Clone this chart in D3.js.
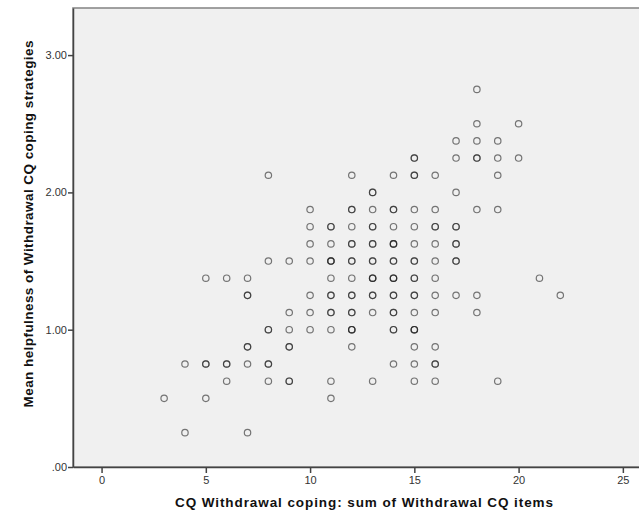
<!DOCTYPE html>
<html>
<head>
<meta charset="utf-8">
<script src="https://cdn.jsdelivr.net/npm/d3@7"></script>
<style>
    body { margin: 0; background: #ffffff; overflow: hidden; }
    svg { display: block; font-family: "Liberation Sans", Arial, sans-serif; }
</style>
</head>
<body>
<svg id="chart" width="639" height="515"></svg>
<script>
// sum of Withdrawal CQ items (x), mean helpfulness (y), overlap count (n)
const sumItems = [3, 4, 4, 5, 5, 5, 6, 6, 6, 7, 7, 7, 7, 7,
    8, 8, 8, 8, 8, 9, 9, 9, 9, 9,
    10, 10, 10, 10, 10, 10, 10,
    11, 11, 11, 11, 11, 11, 11, 11, 11,
    12, 12, 12, 12, 12, 12, 12, 12, 12, 12, 12,
    13, 13, 13, 13, 13, 13, 13, 13, 13, 13,
    14, 14, 14, 14, 14, 14, 14, 14, 14, 14,
    15, 15, 15, 15, 15, 15, 15, 15, 15, 15, 15, 15, 15, 15,
    16, 16, 16, 16, 16, 16, 16, 16, 16, 16, 16,
    17, 17, 17, 17, 17, 17, 17,
    18, 18, 18, 18, 18, 18, 18,
    19, 19, 19, 19, 19,
    20, 20, 21, 22];
const helpfulness = [0.5, 0.25, 0.75, 0.5, 0.75, 1.375, 0.625, 0.75, 1.375, 0.25, 0.75, 0.875, 1.25, 1.375,
    0.625, 0.75, 1.0, 1.5, 2.125, 0.625, 0.875, 1.0, 1.125, 1.5,
    1.0, 1.125, 1.25, 1.5, 1.625, 1.75, 1.875,
    0.5, 0.625, 1.0, 1.125, 1.25, 1.375, 1.5, 1.625, 1.75,
    0.875, 1.0, 1.125, 1.25, 1.375, 1.5, 1.625, 1.75, 1.875, 2.125, 1.0,
    0.625, 1.125, 1.25, 1.375, 1.5, 1.625, 1.75, 1.875, 2.0, 1.375,
    0.75, 1.0, 1.125, 1.25, 1.375, 1.5, 1.625, 1.875, 2.125, 1.75,
    0.625, 0.875, 1.0, 1.125, 1.25, 1.375, 1.5, 1.625, 1.75, 1.875, 2.125, 2.25, 0.75, 1.0,
    0.625, 0.75, 0.875, 1.125, 1.25, 1.375, 1.5, 1.625, 1.75, 1.875, 2.125,
    1.25, 1.5, 1.625, 1.75, 2.0, 2.25, 2.375,
    1.125, 1.25, 1.875, 2.25, 2.375, 2.5, 2.75,
    0.625, 1.875, 2.125, 2.25, 2.375,
    2.25, 2.5, 1.375, 1.25];
const overlap = [1, 1, 1, 1, 2, 1, 1, 2, 1, 1, 1, 2, 2, 1,
    1, 2, 2, 1, 1, 2, 2, 1, 1, 1,
    1, 1, 1, 1, 1, 1, 1,
    1, 1, 1, 2, 2, 1, 3, 1, 2,
    1, 2, 2, 2, 1, 2, 2, 1, 2, 1, 1,
    1, 1, 2, 2, 2, 2, 2, 1, 2, 1,
    1, 2, 2, 2, 3, 2, 3, 2, 1, 1,
    1, 1, 2, 1, 2, 2, 2, 1, 1, 1, 2, 2, 1, 1,
    1, 2, 1, 1, 1, 1, 1, 1, 2, 1, 1,
    1, 2, 2, 2, 1, 1, 1,
    1, 1, 1, 2, 1, 1, 1,
    1, 1, 1, 1, 1,
    1, 1, 1, 1];

const xTicks = [0, 5, 10, 15, 20, 25];
const yTicks = [0, 1, 2, 3];

const xTitle = "CQ Withdrawal coping: sum of Withdrawal CQ items";
const yTitle = "Mean helpfulness of Withdrawal CQ coping strategies";

const svg = d3.select("#chart");
// the frame runs past the right edge of the picture
const plot = {left: 73, right: 646, top: 8, bottom: 467};

const x = d3.scaleLinear()
    .domain([-1.37, 26.11])
    .range([plot.left, plot.right]);

const y = d3.scaleLinear()
    .domain([0, 3.343])
    .range([plot.bottom, plot.top]);

// plot background
svg.append("rect")
    .attr("x", plot.left)
    .attr("y", plot.top)
    .attr("width", plot.right - plot.left)
    .attr("height", plot.bottom - plot.top)
    .attr("fill", "#f0f0f0")
    .attr("stroke", "#8a8a8a")
    .attr("stroke-width", 1.6);

// points, overlapping ones drawn more than once so they come out darker
const points = [];
sumItems.forEach((v, i) => {
    for (let k = 0; k < overlap[i]; k++) {
        points.push({sum: v, help: helpfulness[i]});
    }
});

svg.append("g")
    .selectAll("circle")
    .data(points)
    .enter()
    .append("circle")
    .attr("cx", d => x(d.sum))
    .attr("cy", d => y(d.help))
    .attr("r", 3.2)
    .attr("fill", "none")
    .attr("stroke", "#222")
    .attr("stroke-opacity", 0.6)
    .attr("stroke-width", 1.2);

// axes
const xAxis = svg.append("g")
    .attr("transform", `translate(0,${plot.bottom})`)
    .call(d3.axisBottom(x).tickValues(xTicks).tickSize(6).tickSizeOuter(0).tickPadding(3));

const yAxis = svg.append("g")
    .attr("transform", `translate(${plot.left},0)`)
    .call(d3.axisLeft(y).tickValues(yTicks).tickSize(5).tickSizeOuter(0).tickPadding(1)
        .tickFormat(d => d3.format(".2f")(d).replace(/^0/, "")));

[xAxis, yAxis].forEach(ax => {
    ax.select(".domain").attr("stroke", "#444").attr("stroke-width", 1.5);
    ax.selectAll(".tick line").attr("stroke", "#444").attr("stroke-width", 1.5);
    ax.selectAll(".tick text")
        .attr("fill", "#333")
        .style("font-size", "11px")
        .style("font-family", "'Liberation Sans', Arial, sans-serif");
});

// axis titles
svg.append("text")
    .attr("x", 364)
    .attr("y", 507)
    .attr("text-anchor", "middle")
    .attr("textLength", 378)
    .attr("lengthAdjust", "spacing")
    .style("font-size", "13.5px")
    .style("font-weight", "bold")
    .attr("fill", "#111")
    .text(xTitle);

svg.append("text")
    .attr("transform", "translate(33,224) rotate(-90)")
    .attr("text-anchor", "middle")
    .attr("textLength", 367)
    .attr("lengthAdjust", "spacing")
    .style("font-size", "13.5px")
    .style("font-weight", "bold")
    .attr("fill", "#111")
    .text(yTitle);
</script>
</body>
</html>
